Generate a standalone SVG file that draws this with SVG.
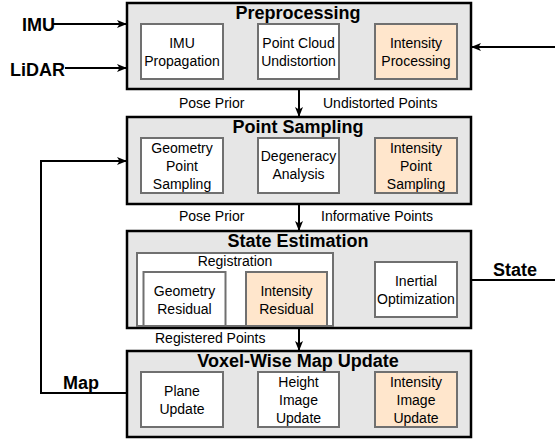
<svg xmlns="http://www.w3.org/2000/svg" width="555" height="443" viewBox="0 0 555 443">
<defs>
<style>
text{font-family:"Liberation Sans",Arial,sans-serif;fill:#000}
.t{font-size:14px;text-anchor:middle}
.b{font-size:18px;font-weight:bold}
.title{font-size:18px;font-weight:bold;text-anchor:middle}
.lbl{font-size:14px}
.outer{fill:#e6e6e6;stroke:#000;stroke-width:2.5}
.w{fill:#fff;stroke:#707070;stroke-width:2}
.o{fill:#ffe6cc;stroke:#707070;stroke-width:2}
.c{fill:none;stroke:#000;stroke-width:2}
</style>
<marker id="ah" markerUnits="userSpaceOnUse" markerWidth="10" markerHeight="10" refX="10" refY="5" orient="auto">
<path d="M0,1 L10,5 L0,9 L2.5,5 z" fill="#000"/>
</marker>
</defs>

<g id="connectors">
<line class="c" x1="53" y1="24" x2="127" y2="24" marker-end="url(#ah)"/>
<line class="c" x1="65" y1="68" x2="127" y2="68" marker-end="url(#ah)"/>
<line class="c" x1="555" y1="47" x2="471" y2="47" marker-end="url(#ah)"/>
<line class="c" x1="299" y1="89" x2="299" y2="117" marker-end="url(#ah)"/>
<line class="c" x1="299" y1="204" x2="299" y2="231" marker-end="url(#ah)"/>
<line class="c" x1="299" y1="328" x2="299" y2="351" marker-end="url(#ah)"/>
<line class="c" x1="471" y1="280" x2="555" y2="280"/>
<polyline class="c" points="127,393 41,393 41,161 127,161" marker-end="url(#ah)"/>
<text class="b" x="22" y="31">IMU</text>
<text class="b" x="10" y="76">LiDAR</text>
<text class="b" x="493" y="276">State</text>
<text class="b" x="63" y="389">Map</text>
<text class="lbl" x="179" y="108">Pose Prior</text>
<text class="lbl" x="323" y="108">Undistorted Points</text>
<text class="lbl" x="179" y="221">Pose Prior</text>
<text class="lbl" x="321" y="221">Informative Points</text>
<text class="lbl" x="155" y="343">Registered Points</text>
</g>

<g id="preprocessing">
<rect class="outer" x="127" y="3" width="344" height="86"/>
<text class="title" x="298" y="19">Preprocessing</text>
<g id="imu-propagation">
<rect class="w" x="141" y="24" width="82" height="55"/>
<text class="t" x="182" y="48">IMU</text>
<text class="t" x="182" y="66">Propagation</text>
</g>
<g id="point-cloud-undistortion">
<rect class="w" x="258" y="24" width="81" height="55"/>
<text class="t" x="298.5" y="48">Point Cloud</text>
<text class="t" x="298.5" y="66">Undistortion</text>
</g>
<g id="intensity-processing">
<rect class="o" x="375" y="24" width="82" height="55"/>
<text class="t" x="416" y="48">Intensity</text>
<text class="t" x="416" y="66">Processing</text>
</g>
</g>

<g id="point-sampling">
<rect class="outer" x="127" y="117" width="344" height="87"/>
<text class="title" x="298" y="133">Point Sampling</text>
<g id="geometry-point-sampling">
<rect class="w" x="141" y="138" width="82" height="55"/>
<text class="t" x="182" y="153">Geometry</text>
<text class="t" x="182" y="171">Point</text>
<text class="t" x="182" y="189">Sampling</text>
</g>
<g id="degeneracy-analysis">
<rect class="w" x="258" y="138" width="81" height="55"/>
<text class="t" x="298.5" y="161">Degeneracy</text>
<text class="t" x="298.5" y="179">Analysis</text>
</g>
<g id="intensity-point-sampling">
<rect class="o" x="375" y="138" width="82" height="55"/>
<text class="t" x="416" y="153">Intensity</text>
<text class="t" x="416" y="171">Point</text>
<text class="t" x="416" y="189">Sampling</text>
</g>
</g>

<g id="state-estimation">
<rect class="outer" x="127" y="231" width="344" height="97"/>
<text class="title" x="298" y="247">State Estimation</text>
<g id="registration">
<rect class="w" x="137" y="253" width="196" height="73"/>
<text class="t" x="235" y="266">Registration</text>
<g id="geometry-residual">
<rect class="w" x="143.5" y="272" width="82" height="54"/>
<text class="t" x="184.5" y="296">Geometry</text>
<text class="t" x="184.5" y="314">Residual</text>
</g>
<g id="intensity-residual">
<rect class="o" x="246" y="272" width="81" height="54"/>
<text class="t" x="286.5" y="296">Intensity</text>
<text class="t" x="286.5" y="314">Residual</text>
</g>
</g>
<g id="inertial-optimization">
<rect class="w" x="375" y="262" width="82" height="55"/>
<text class="t" x="416" y="286">Inertial</text>
<text class="t" x="416" y="304">Optimization</text>
</g>
</g>

<g id="voxel-wise-map-update">
<rect class="outer" x="127" y="351" width="344" height="86"/>
<text class="title" x="298" y="367">Voxel-Wise Map Update</text>
<g id="plane-update">
<rect class="w" x="141" y="372" width="82" height="55"/>
<text class="t" x="182" y="396">Plane</text>
<text class="t" x="182" y="414">Update</text>
</g>
<g id="height-image-update">
<rect class="w" x="258" y="372" width="81" height="55"/>
<text class="t" x="298.5" y="387">Height</text>
<text class="t" x="298.5" y="405">Image</text>
<text class="t" x="298.5" y="423">Update</text>
</g>
<g id="intensity-image-update">
<rect class="o" x="375" y="372" width="82" height="55"/>
<text class="t" x="416" y="387">Intensity</text>
<text class="t" x="416" y="405">Image</text>
<text class="t" x="416" y="423">Update</text>
</g>
</g>
</svg>
